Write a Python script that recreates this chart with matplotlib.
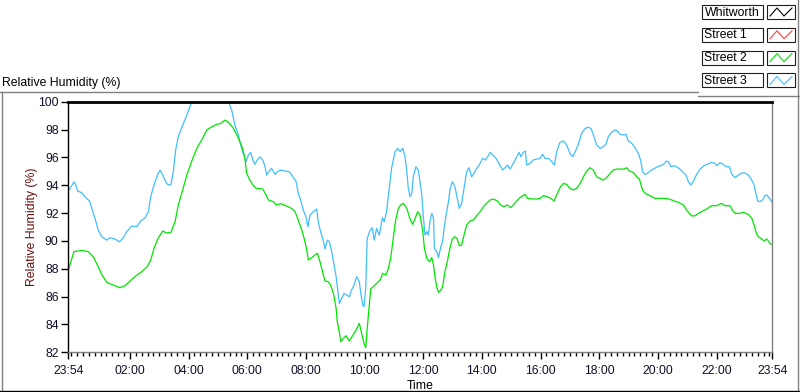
import numpy as np
import matplotlib.pyplot as plt
from matplotlib.lines import Line2D
from matplotlib.patches import Rectangle

plt.rcParams['font.family'] = ['Liberation Sans', 'DejaVu Sans']

# ── Data (hours after 23:54, relative humidity in %) ─────────────────────────
street2_hours = [
    0.02, 0.12, 0.19, 0.46, 0.68, 0.85, 1.02, 1.14, 1.31, 1.54, 1.76, 1.93, 2.10, 2.27, 2.50,
    2.69, 2.81, 2.92, 3.07, 3.22, 3.35, 3.50, 3.64, 3.75, 3.90, 4.04, 4.21, 4.38, 4.55, 4.72,
    4.89, 5.06, 5.19, 5.34, 5.46, 5.63, 5.80, 5.94, 6.02,
    6.08, 6.19, 6.31, 6.40, 6.63, 6.74, 6.82, 6.99, 7.08, 7.24, 7.44, 7.61, 7.73, 7.84, 7.96,
    8.04, 8.13, 8.18, 8.30, 8.41, 8.49, 8.58, 8.67, 8.75, 8.86, 8.94, 9.04, 9.13, 9.17, 9.24,
    9.29, 9.38, 9.47, 9.58, 9.69, 9.81, 9.92, 10.00, 10.08, 10.14, 10.19, 10.25, 10.31, 10.40,
    10.51, 10.63, 10.72, 10.83, 10.91, 10.99, 11.08, 11.16, 11.25, 11.33, 11.42, 11.54, 11.65,
    11.74, 11.82, 11.91, 11.99,
    12.08, 12.14, 12.22, 12.31, 12.39, 12.45, 12.50, 12.56, 12.62, 12.70, 12.76, 12.84, 12.92,
    13.01, 13.09, 13.18, 13.26, 13.33, 13.41, 13.49, 13.58, 13.70, 13.81, 13.92, 14.04, 14.15,
    14.26, 14.38, 14.49, 14.63, 14.74, 14.85, 14.97, 15.08, 15.17, 15.29, 15.40, 15.57, 15.65,
    15.80, 15.97, 16.08, 16.20, 16.31, 16.45, 16.56, 16.65, 16.76, 16.88, 16.99, 17.10, 17.22,
    17.33, 17.45, 17.56, 17.67, 17.79, 17.90, 18.01, 18.13,
    18.22, 18.30, 18.38, 18.47, 18.58, 18.69, 18.83, 18.94, 19.04, 19.13, 19.26, 19.38, 19.47,
    19.51, 19.58, 19.66, 19.77, 19.89, 20.00, 20.17, 20.34, 20.51, 20.65, 20.80, 20.97, 21.08,
    21.17, 21.25, 21.37, 21.48, 21.63, 21.76, 21.93, 22.10, 22.27, 22.39, 22.56, 22.64, 22.73,
    22.90, 23.01, 23.18, 23.30, 23.38, 23.44, 23.52, 23.64, 23.72, 23.81, 23.92, 24.00,
]
street2_rh = [
    88.03, 88.75, 89.23, 89.32, 89.23, 88.87, 88.15, 87.60, 87.02, 86.83, 86.64, 86.78, 87.12,
    87.43, 87.79, 88.15, 88.63, 89.47, 90.23, 90.71, 90.57, 90.62, 91.38, 92.58, 93.66, 94.73,
    95.74, 96.65, 97.25, 97.97, 98.20, 98.37, 98.44, 98.68, 98.52, 98.08, 97.37, 96.65, 95.93,
    94.85, 94.37, 93.97, 93.78, 93.73, 93.30, 92.94, 92.82, 92.58, 92.68, 92.51, 92.34, 92.10,
    91.50, 90.78, 90.18, 89.35, 88.63, 88.80, 88.99, 89.11, 88.51, 87.79, 87.12, 87.07, 86.83,
    86.23, 85.16, 84.20, 83.43, 82.76, 83.00, 83.19, 82.81, 83.19, 83.60, 84.08, 83.36, 82.64,
    82.33, 83.72, 85.16, 86.55, 86.71, 86.95, 87.19, 87.67, 87.55, 88.03, 88.75, 90.18, 91.50,
    92.34, 92.58, 92.70, 92.34, 91.57, 91.19, 91.62, 92.10, 91.86,
    90.78, 89.47, 88.75, 88.51, 88.80, 88.27, 87.43, 86.71, 86.31, 86.47, 86.71, 87.79, 88.51,
    89.47, 90.14, 90.30, 90.14, 89.66, 89.71, 90.42, 91.14, 91.43, 91.50, 91.81, 92.10, 92.46,
    92.70, 92.94, 93.01, 92.87, 92.58, 92.46, 92.58, 92.39, 92.58, 92.87, 93.11, 93.35, 93.06,
    93.01, 93.01, 93.06, 93.25, 93.18, 93.06, 92.87, 93.30, 93.82, 94.13, 94.06, 93.78, 93.66,
    93.78, 94.13, 94.61, 95.02, 95.26, 95.09, 94.61, 94.49,
    94.37, 94.45, 94.61, 94.85, 95.09, 95.16, 95.16, 95.16, 95.26, 95.02, 94.92, 94.61, 94.45,
    94.13, 93.66, 93.42, 93.30, 93.18, 93.06, 93.06, 93.06, 92.99, 92.87, 92.77, 92.58, 92.22,
    91.98, 91.79, 91.81, 91.98, 92.15, 92.29, 92.53, 92.53, 92.70, 92.53, 92.53, 92.22, 91.98,
    91.98, 92.05, 91.91, 91.62, 91.14, 90.66, 90.30, 90.14, 89.99, 90.14, 89.83, 89.71,
]

street3_hours = [
    0.02, 0.12, 0.19, 0.25, 0.32, 0.46, 0.57, 0.72, 0.80, 0.91, 1.02, 1.14, 1.31, 1.42, 1.59,
    1.74, 1.88, 1.99, 2.16, 2.33, 2.47, 2.62, 2.73, 2.81, 2.92, 3.04, 3.13, 3.22, 3.33, 3.41,
    3.50, 3.58, 3.66, 3.75, 3.90, 4.04, 4.21, 4.45, 4.80, 5.15, 5.46, 5.57, 5.68, 5.80,
    5.85, 5.94, 5.99, 6.06, 6.14, 6.22, 6.29, 6.36, 6.44, 6.54, 6.63, 6.71, 6.76, 6.85, 6.93,
    7.05, 7.16, 7.27, 7.39, 7.54, 7.65, 7.76, 7.84, 7.92, 8.01, 8.10, 8.17, 8.24, 8.35, 8.47,
    8.52, 8.60, 8.69, 8.75, 8.83, 8.90, 8.98, 9.06, 9.13, 9.18, 9.24, 9.32, 9.40, 9.49, 9.58,
    9.66, 9.74, 9.83, 9.92, 9.98, 10.04, 10.08, 10.14, 10.19, 10.29, 10.36, 10.43, 10.51, 10.60,
    10.71, 10.77, 10.85, 10.93, 11.02, 11.14, 11.23, 11.31, 11.40, 11.48, 11.54, 11.59, 11.65,
    11.71, 11.76, 11.85, 11.93, 11.99,
    12.05, 12.10, 12.16, 12.22, 12.27, 12.33, 12.39, 12.45, 12.48, 12.56, 12.62, 12.70, 12.76,
    12.81, 12.88, 12.96, 13.01, 13.09, 13.18, 13.26, 13.33, 13.41, 13.49, 13.58, 13.66, 13.75,
    13.83, 13.92, 14.04, 14.12, 14.21, 14.30, 14.38, 14.49, 14.60, 14.72, 14.81, 14.89, 14.97,
    15.06, 15.17, 15.29, 15.37, 15.43, 15.51, 15.58, 15.63, 15.74, 15.85, 15.97, 16.08, 16.17,
    16.25, 16.37, 16.48, 16.57, 16.65, 16.76, 16.88, 16.99, 17.10, 17.20, 17.27, 17.39, 17.50,
    17.62, 17.73, 17.82, 17.90, 18.01, 18.13,
    18.24, 18.33, 18.41, 18.52, 18.64, 18.72, 18.81, 18.92, 19.01, 19.09, 19.21, 19.32, 19.43,
    19.51, 19.58, 19.66, 19.74, 19.83, 19.94, 20.08, 20.19, 20.29, 20.40, 20.46, 20.54, 20.63,
    20.74, 20.85, 20.97, 21.06, 21.14, 21.22, 21.31, 21.42, 21.54, 21.67, 21.82, 21.93, 22.05,
    22.10, 22.22, 22.33, 22.42, 22.54, 22.62, 22.73, 22.84, 22.96, 23.07, 23.18, 23.30, 23.38,
    23.44, 23.50, 23.58, 23.67, 23.75, 23.81, 23.90, 24.00,
]
street3_rh = [
    93.66, 93.97, 94.25, 94.06, 93.58, 93.46, 93.18, 92.87, 92.34, 91.62, 90.78, 90.30, 90.06,
    90.23, 90.14, 89.94, 90.23, 90.66, 91.07, 91.02, 91.43, 91.67, 92.10, 93.18, 94.01, 94.73,
    95.09, 94.73, 94.21, 94.01, 94.06, 94.97, 96.53, 97.49, 98.32, 99.04, 100.00, 100.90,
    101.30, 100.90, 100.00, 99.40, 98.32, 97.61,
    97.13, 96.41, 96.17, 95.69, 96.17, 96.36, 95.81, 95.50, 95.81, 96.03, 95.81, 95.33, 94.73,
    95.02, 95.21, 94.78, 95.02, 95.09, 95.02, 94.97, 94.61, 94.30, 93.42, 92.94, 92.22, 91.74,
    91.02, 91.86, 92.10, 92.29, 91.38, 90.66, 90.06, 89.42, 90.06, 89.94, 89.23, 88.27, 87.43,
    86.59, 85.52, 85.88, 86.23, 86.11, 85.99, 86.47, 86.83, 87.43, 87.07, 86.11, 85.40, 85.28,
    86.59, 90.18, 90.78, 90.95, 90.06, 90.90, 90.42, 91.67, 91.38, 92.10, 93.54, 95.21, 96.41,
    96.65, 96.41, 96.65, 96.05, 94.97, 93.78, 93.18, 93.42, 94.61, 95.33, 95.09, 94.25,
    93.30, 91.86, 90.42, 90.66, 90.42, 91.38, 91.98, 91.62, 89.47, 89.23, 88.80, 89.59, 89.94,
    90.90, 91.86, 92.82, 93.66, 94.25, 93.90, 93.06, 92.34, 92.70, 93.78, 94.97, 95.26, 94.61,
    94.85, 95.21, 95.57, 95.93, 95.81, 96.05, 96.36, 96.12, 95.88, 95.40, 95.09, 95.26, 95.45,
    95.16, 95.57, 96.05, 96.36, 96.05, 96.36, 96.46, 95.45, 95.57, 95.81, 95.88, 95.93, 96.22,
    95.93, 95.93, 95.69, 95.45, 96.41, 97.08, 97.18, 96.89, 96.29, 96.05, 96.36, 96.94, 97.73,
    98.08, 98.16, 98.08, 97.61, 96.89, 96.65,
    96.77, 96.94, 97.49, 97.80, 97.97, 97.89, 97.65, 97.61, 97.65, 97.18, 97.01, 96.70, 96.29,
    95.81, 94.97, 94.78, 94.85, 95.02, 95.16, 95.33, 95.40, 95.50, 95.74, 95.69, 95.33, 95.40,
    95.33, 95.16, 94.92, 94.73, 94.25, 94.01, 94.30, 94.78, 95.16, 95.40, 95.55, 95.64, 95.57,
    95.40, 95.62, 95.50, 95.33, 95.33, 94.78, 94.54, 94.73, 94.88, 94.88, 94.73, 94.37, 94.01,
    93.42, 92.87, 92.82, 92.94, 93.25, 93.30, 93.06, 92.77,
]

legend_names = ["Whitworth", "Street 1", "Street 2", "Street 3"]
legend_colors = ["#000000", "#ff4040", "#00e600", "#40bfff"]

x_tick_hours = [0, 2.1, 4.1, 6.1, 8.1, 10.1, 12.1, 14.1, 16.1, 18.1, 20.1, 22.1, 24]
x_tick_labels = ["23:54", "02:00", "04:00", "06:00", "08:00", "10:00", "12:00",
                 "14:00", "16:00", "18:00", "20:00", "22:00", "23:54"]
y_ticks = [82, 84, 86, 88, 90, 92, 94, 96, 98, 100]

# ── Figure in pixel terms ────────────────────────────────────────────────────
W, H = 800, 392
fig = plt.figure(figsize=(W / 100, H / 100), dpi=100)
fig.patch.set_facecolor("white")


def fx(x):
    return x / W


def fy(y):
    return 1 - y / H


ax = fig.add_axes([fx(68.3), fy(352.3), 704 / W, 250.6 / H])
ax.plot(street3_hours, street3_rh, color=legend_colors[3], lw=0.9)
ax.plot(street2_hours, street2_rh, color=legend_colors[2], lw=0.9)
ax.set_xlim(0, 24)
ax.set_ylim(82, 100)

ax.spines["top"].set_linewidth(2.0)
ax.spines["top"].set_color("black")
ax.spines["left"].set_linewidth(1.0)
ax.spines["left"].set_color("black")
for s in ("bottom", "right"):
    ax.spines[s].set_color("#808080")
    ax.spines[s].set_linewidth(1.0)

ax.set_yticks(y_ticks)
ax.set_yticklabels([str(v) for v in y_ticks])
ax.set_xticks(x_tick_hours)
ax.set_xticklabels(x_tick_labels)
ax.set_xticks(np.arange(0.1, 24, 0.2), minor=True)
ax.tick_params(axis="y", length=5, width=1, color="black", pad=2, labelsize=8.8,
               labelcolor="#10102a")
ax.tick_params(axis="x", which="major", length=5, width=1, color="black", pad=4,
               labelsize=8.8, labelcolor="#10102a")
ax.tick_params(axis="x", which="minor", length=3, width=1, color="black")

ax.set_xlabel("Time", fontsize=8.8, labelpad=2.5)
ax.set_ylabel("Relative Humidity (%)", fontsize=8.8, color="#6b0d0d", labelpad=0)

fig.text(fx(2), fy(83), "Relative Humidity (%)", fontsize=8.8, va="center", ha="left")

# ── Panel frame ─────────────────────────────────────────────────────────────
gray = "#808080"
frame = [
    ([0, 698], [91.5, 91.5], gray),
    ([698, 800], [95.5, 95.5], gray),
    ([1.5, 1.5], [91.5, 392], gray),
    ([797.5, 797.5], [0, 392], gray),
    ([0, 800], [390.8, 390.8], "black"),
]
for xs, ys, c in frame:
    fig.add_artist(Line2D([fx(v) for v in xs], [fy(v) for v in ys], color=c, lw=1,
                          transform=fig.transFigure))

# ── Legend (plot legend in LabVIEW style) ───────────────────────────────────
for i, (name, color) in enumerate(zip(legend_names, legend_colors)):
    top = 5 + 22.8 * i
    fig.add_artist(Rectangle((fx(702), fy(top + 14)), 61 / W, 14 / H, fill=False,
                             ec="#202020", lw=0.8, transform=fig.transFigure))
    fig.text(fx(704.5), fy(top + 7.5), name, fontsize=8.8, va="center", ha="left")
    fig.add_artist(Rectangle((fx(767), fy(top + 14)), 28 / W, 14 / H, fill=False,
                             ec="#202020", lw=0.8, transform=fig.transFigure))
    zx = [770, 777, 784, 792]
    zy = [top + 11, top + 3, top + 11, top + 3]
    fig.add_artist(Line2D([fx(v) for v in zx], [fy(v) for v in zy], color=color, lw=0.8,
                          transform=fig.transFigure))

plt.savefig("out.png", dpi=100)
